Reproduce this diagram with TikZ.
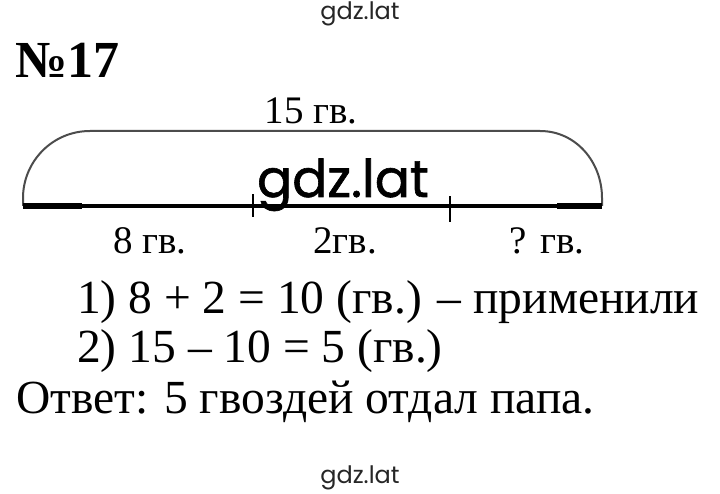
\documentclass[tikz,border=0pt]{standalone}
\usepackage{fontspec}
\setmainfont{Liberation Serif}
\newfontfamily\wmfont{Poppins}
\newfontfamily\wmboldfont[FakeBold=1.2]{Poppins}
\begin{document}
\begin{tikzpicture}[x=1pt,y=-1pt,
  lbl/.style={inner sep=0pt, font=\fontsize{39}{42}\selectfont},
  txt/.style={inner sep=0pt, anchor=base west, font=\fontsize{47.5}{52}\selectfont},
  wm/.style={inner sep=0pt, text=black!85, font=\wmfont\fontsize{24}{26}\selectfont},
  arcline/.style={line width=2pt, draw=black!70},
  baseline/.style={line width=4pt},
  endseg/.style={line width=6pt},
  tick/.style={line width=2.5pt}]
\useasboundingbox[fill=white] (0,0) rectangle (720,494);
% watermarks
\node[wm] (wmtop) at (360,14) {gdz.lat};
\node[wm] (wmbot) at (360,478) {gdz.lat};
% title
\node[inner sep=0pt, anchor=base west, font=\bfseries\fontsize{52}{56}\selectfont] (title) at (15,78) {№17};
% coordinates
\coordinate (L) at (23,206);
\coordinate (R) at (602,206);
\coordinate (T1) at (253,206);
\coordinate (T2) at (450,206);
% arc
\draw[arcline] (L) -- (23,198) .. controls (23,162) and (52,131) .. (90,131) -- (540,131) .. controls (576,131) and (602,162) .. (602,198) -- (R);
% base line
\draw[baseline] (L) -- (R);
\draw[endseg] (L) -- (82,206);
\draw[endseg] (557,206) -- (R);
\draw[tick] ([yshift=-11pt]T1) -- ([yshift=12pt]T1);
\draw[tick] ([yshift=-16pt]T2) -- ([yshift=10pt]T2);
% big watermark
\node[inner sep=0pt, anchor=base, font=\wmboldfont\fontsize{52}{56}\selectfont] (wmmid) at (343,197) {gdz.lat};
% labels
\node[lbl] (top) at (311,111) {15 гв.};
\node[lbl] (a) at (150,241) {8 гв.};
\node[lbl] (b) at (345,241) {2гв.};
\node[lbl] (c) at (547,241) {? гв.};
% solution
\node[txt] (s1) at (77,313) {1) 8 + 2 = 10 (гв.) – применили};
\node[txt] (s2) at (77,362) {2) 15 – 10 = 5 (гв.)};
\node[txt] (s3) at (16,413) {Ответ: 5 гвоздей отдал папа.};
\end{tikzpicture}
\end{document}
